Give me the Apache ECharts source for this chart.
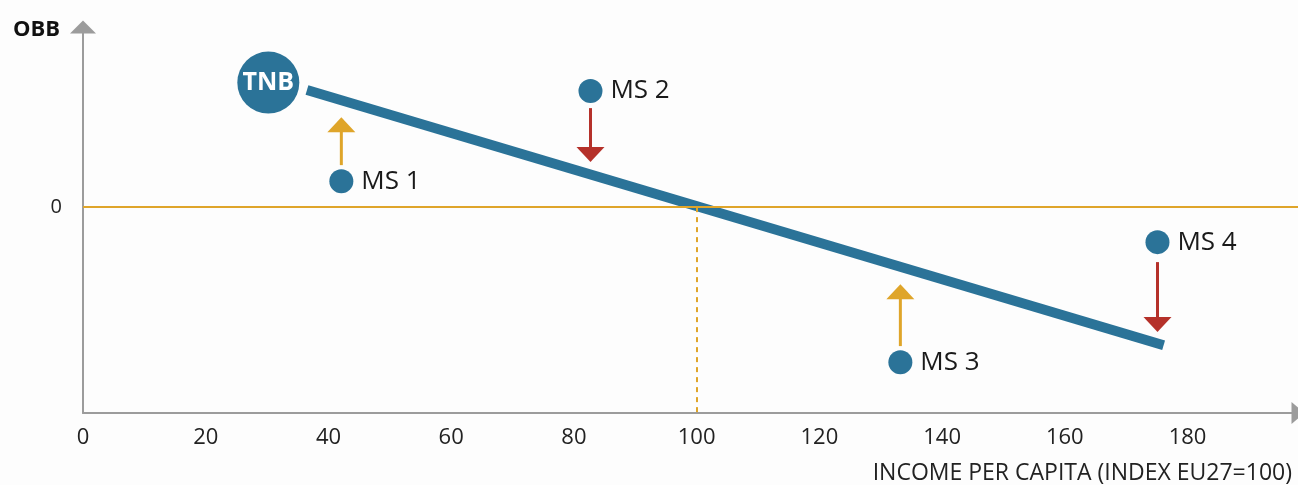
<!DOCTYPE html>
<html>
<head>
<meta charset="utf-8">
<script src="https://cdn.jsdelivr.net/npm/echarts@6/dist/echarts.min.js"></script>
<style>
html,body{margin:0;padding:0;background:#fdfdfd;}
#chart{width:1298px;height:485px;}
</style>
</head>
<body>
<div id="chart"></div>
<script>
// ---- data ----
var xTicks = [0, 20, 40, 60, 80, 100, 120, 140, 160, 180];
var memberNames = ['MS 1', 'MS 2', 'MS 3', 'MS 4'];
var memberIncome = [42.1, 82.7, 133.2, 175.1];
var memberObb = [1.26, 5.64, -7.53, -1.70];
// arrows: start and tip of each adjustment arrow (y in OBB units)
var arrowFrom = [2.04, 4.81, -6.75, -2.67];
var arrowTo = [4.37, 2.19, -3.74, -6.07];
var arrowDir = ['up', 'down', 'up', 'down'];
var tnbPoint = [30.2, 6.05];
var tnbLineX = [36.5, 176.1];
var tnbLineY = [5.69, -6.71];
var averageIncome = 100;

var BLUE = '#2b7398';
var GOLD = '#dfa52a';
var RED = '#b5312a';
var AXIS = '#9c9c9c';
var FONT = '"Open Sans", sans-serif';

var chart = echarts.init(document.getElementById('chart'));

var arrowData = memberIncome.map(function (x, i) {
  return [x, arrowFrom[i], arrowTo[i], arrowDir[i] === 'up' ? 0 : 1];
});

chart.setOption({
  backgroundColor: '#fdfdfd',
  animation: false,
  grid: { left: 83, right: -4, top: 27, bottom: 72 },
  xAxis: {
    type: 'value', min: 0, max: 198, interval: 20,
    axisLine: { show: true, onZero: false, lineStyle: { color: AXIS, width: 2 }, symbol: ['none', 'triangle'], symbolSize: [22, 13] },
    axisTick: { show: false },
    splitLine: { show: false },
    axisLabel: {
      margin: 14, fontSize: 22, color: '#222', fontFamily: FONT, showMaxLabel: false,
      formatter: function (v) { return xTicks.indexOf(v) >= 0 ? String(v) : ''; }
    },
    name: 'INCOME PER CAPITA (INDEX EU27=100)',
    nameLocation: 'end', nameGap: -6,
    nameTextStyle: { fontSize: 23, color: '#222', fontFamily: FONT, align: 'right', verticalAlign: 'top', padding: [49, 0, 0, 0] }
  },
  yAxis: {
    type: 'value', min: -10, max: 8.75, interval: 10,
    axisLine: { show: true, lineStyle: { color: AXIS, width: 2 }, symbol: ['none', 'triangle'], symbolSize: [26, 13] },
    axisTick: { show: false },
    splitLine: { show: false },
    axisLabel: {
      margin: 21, fontSize: 20, color: '#222', fontFamily: FONT, showMaxLabel: false,
      formatter: function (v) { return v === 0 ? '0' : ''; }
    },
    name: 'OBB', nameLocation: 'end', nameGap: -3,
    nameTextStyle: { fontSize: 22, fontWeight: 'bold', color: '#111', fontFamily: FONT, align: 'right', verticalAlign: 'middle', padding: [0, 23, 0, 0] }
  },
  series: [
    {
      type: 'line',
      data: [[tnbLineX[0], tnbLineY[0]], [tnbLineX[1], tnbLineY[1]]],
      showSymbol: false, symbol: 'none',
      lineStyle: { color: BLUE, width: 10, cap: 'butt' },
      z: 3,
      markLine: {
        silent: true, symbol: 'none', label: { show: false },
        data: [
          [{ coord: [0, 0], lineStyle: { color: GOLD, width: 2, type: 'solid' } }, { coord: [198, 0] }],
          [{ coord: [averageIncome, 0], lineStyle: { color: GOLD, width: 2, type: [5, 5] } }, { coord: [averageIncome, -10] }]
        ]
      }
    },
    {
      type: 'custom',
      z: 4,
      data: arrowData,
      renderItem: function (params, api) {
        var x = api.value(0);
        var p0 = api.coord([x, api.value(1)]);
        var p1 = api.coord([x, api.value(2)]);
        var color = api.value(3) === 0 ? GOLD : RED;
        var dir = p1[1] > p0[1] ? 1 : -1;
        var headLen = 15, half = 14;
        var baseY = p1[1] - dir * headLen;
        return {
          type: 'group',
          children: [
            { type: 'line', shape: { x1: p0[0], y1: p0[1], x2: p1[0], y2: baseY + dir * 1 }, style: { stroke: color, lineWidth: 3 } },
            { type: 'polygon', shape: { points: [[p1[0], p1[1]], [p1[0] - half, baseY], [p1[0] + half, baseY]] }, style: { fill: color } }
          ]
        };
      }
    },
    {
      type: 'scatter',
      z: 5,
      symbolSize: 24,
      itemStyle: { color: BLUE, opacity: 1 },
      data: memberIncome.map(function (x, i) { return { value: [x, memberObb[i]], name: memberNames[i] }; }),
      label: {
        show: true, position: 'right', distance: 8,
        formatter: function (p) { return p.name; },
        fontSize: 26, color: '#1a1a1a', fontFamily: FONT
      }
    },
    {
      type: 'scatter',
      z: 6,
      symbolSize: 62,
      itemStyle: { color: BLUE, opacity: 1 },
      data: [{ value: tnbPoint, name: 'TNB' }],
      label: {
        show: true, position: 'inside',
        formatter: function (p) { return p.name; },
        fontSize: 25, fontWeight: 'bold', color: '#ffffff', fontFamily: FONT
      }
    }
  ]
});
</script>
</body>
</html>
